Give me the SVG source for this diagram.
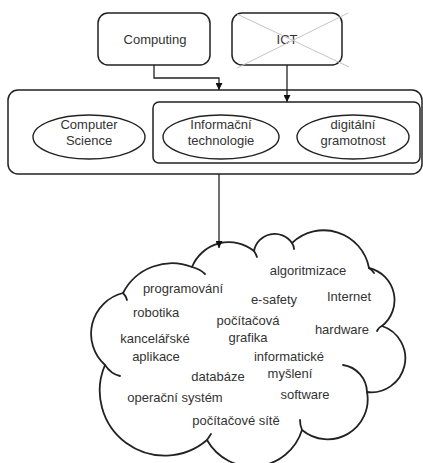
<svg xmlns="http://www.w3.org/2000/svg" width="423" height="463" viewBox="0 0 423 463">
<defs>
<style>
.box{fill:#fff;stroke:#222;stroke-width:1.5}
.ell{fill:#fff;stroke:#222;stroke-width:1.4}
.t{font-family:"Liberation Sans",Arial,sans-serif;font-size:13px;fill:#333;text-anchor:middle}
.c{fill:none;stroke:#222;stroke-width:1.3}
.cloud{fill:#fff;stroke:#222;stroke-width:1.8;stroke-linejoin:round}
.hook{fill:none;stroke:#222;stroke-width:1.8;stroke-linecap:round}
.x{stroke:#c4c4c4;stroke-width:1}
</style>
<marker id="ah" viewBox="0 0 10 10" refX="10" refY="5" markerWidth="7" markerHeight="7" markerUnits="userSpaceOnUse" orient="auto">
<path d="M0,0 L10,5 L0,10 Z" fill="#111"/>
</marker>
</defs>
<rect width="423" height="463" fill="#fff"/>

<g id="outer">
<rect class="box" x="8" y="90" width="414" height="84" rx="10"/>
</g>
<g id="inner">
<rect class="box" x="153" y="102" width="267" height="61" rx="6"/>
</g>

<g id="computing">
<rect class="box" x="98" y="13" width="112" height="52" rx="10"/>
<text class="t" x="155" y="44">Computing</text>
</g>

<g id="ict">
<rect class="box" x="232" y="13" width="110" height="52" rx="10"/>
<text class="t" x="287" y="44">ICT</text>
<line class="x" x1="237" y1="14" x2="349" y2="67"/>
<line class="x" x1="348" y1="13" x2="237" y2="68"/>
</g>

<g id="computer-science">
<ellipse class="ell" cx="89" cy="137" rx="56" ry="22"/>
<text class="t" x="89" y="129">Computer</text>
<text class="t" x="89" y="145">Science</text>
</g>

<g id="informacni-technologie">
<ellipse class="ell" cx="221" cy="137" rx="58" ry="22"/>
<text class="t" x="221" y="129">Informační</text>
<text class="t" x="221" y="145">technologie</text>
</g>

<g id="digitalni-gramotnost">
<ellipse class="ell" cx="353" cy="137" rx="56" ry="22"/>
<text class="t" x="353" y="129">digitální</text>
<text class="t" x="353" y="145">gramotnost</text>
</g>

<g id="cloud">
<path class="cloud" d="M123,293 A55,55 0 0 1 192,267 A40,40 0 0 1 254,251 A21,21 0 0 1 292,243 A46,46 0 0 1 369,268 A33,33 0 0 1 382,326 A34,34 0 0 1 367,392 A40,40 0 0 1 302,430 A52,52 0 0 1 207,440 A65,65 0 0 1 105,365 A42,42 0 0 1 123,293 Z"/>
<path class="hook" d="M192,267 Q200,269 205,274"/>
<path class="hook" d="M254,251 Q256,254 257,257"/>
<path class="hook" d="M292,243 Q294,246 294,249"/>
<path class="hook" d="M369,268 Q372,270 374,273"/>
<path class="hook" d="M382,326 Q379,327 377,331"/>
<path class="hook" d="M343,365 A28,28 0 0 1 367,392"/>
<path class="hook" d="M302,430 Q300,425 300,420"/>
<path class="hook" d="M207,440 Q209,437 211,434"/>
<path class="hook" d="M105,365 Q111,374 120,376"/>
<path class="hook" d="M123,293 Q126,296 127,300"/>
<text class="t" x="308" y="275">algoritmizace</text>
<text class="t" x="183" y="293">programování</text>
<text class="t" x="274" y="304">e-safety</text>
<text class="t" x="349" y="301">Internet</text>
<text class="t" x="156" y="317">robotika</text>
<text class="t" x="248" y="325">počítačová</text>
<text class="t" x="248" y="342">grafika</text>
<text class="t" x="342" y="334">hardware</text>
<text class="t" x="155" y="343">kancelářské</text>
<text class="t" x="156" y="361">aplikace</text>
<text class="t" x="289" y="361">informatické</text>
<text class="t" x="218" y="381">databáze</text>
<text class="t" x="290" y="378">myšlení</text>
<text class="t" x="175" y="402">operační systém</text>
<text class="t" x="305" y="399">software</text>
<text class="t" x="236" y="425">počítačové sítě</text>
</g>

<g id="connectors">
<path class="c" d="M154,65 V78 H219 V90" marker-end="url(#ah)"/>
<path class="c" d="M287,65 V102" marker-end="url(#ah)"/>
<path class="c" d="M219,174 V248" marker-end="url(#ah)"/>
</g>
</svg>
